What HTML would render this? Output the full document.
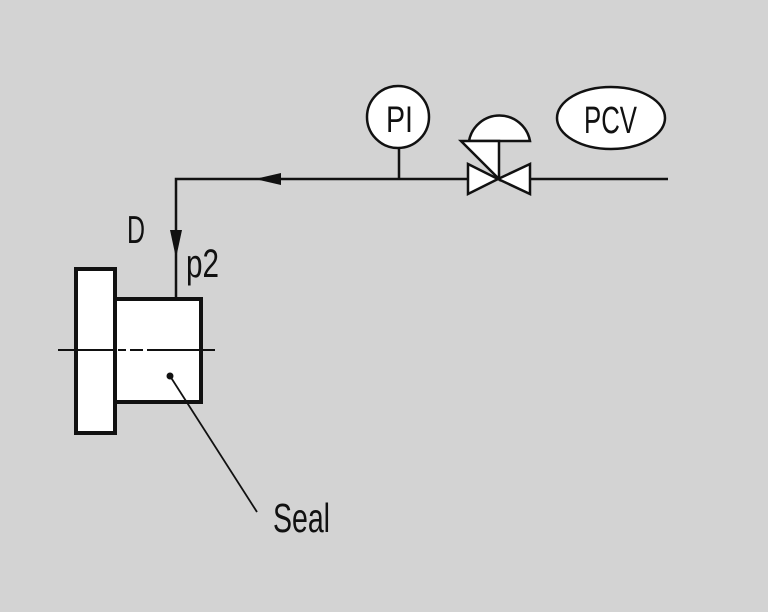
<!DOCTYPE html>
<html><head><meta charset="utf-8"><style>
html,body{margin:0;padding:0;background:#d3d3d3;}
svg{display:block;}
text{font-family:"Liberation Sans",sans-serif;fill:#111;}
</style></head><body>
<svg width="768" height="612" viewBox="0 0 768 612" xmlns="http://www.w3.org/2000/svg">
<rect width="768" height="612" fill="#d3d3d3"/>
<g stroke="#111" fill="none">
<polyline points="668,179 176,179 176,298" stroke-width="2.5"/>
<line x1="399" y1="148" x2="399" y2="179" stroke-width="2.5"/>
</g>
<polygon points="255,179 281,173 281,185" fill="#111"/>
<polygon points="176,258 170,230 182,230" fill="#111"/>
<rect x="76" y="269" width="39" height="164" fill="#fff" stroke="#111" stroke-width="4"/>
<rect x="115" y="299" width="86" height="103" fill="#fff" stroke="#111" stroke-width="4"/>
<g stroke="#111" stroke-width="2">
<line x1="58" y1="350" x2="115" y2="350"/>
<line x1="118" y1="350" x2="126" y2="350"/>
<line x1="130" y1="350" x2="143" y2="350"/>
<line x1="147" y1="350" x2="215" y2="350"/>
<line x1="170" y1="376" x2="257" y2="512" stroke-width="1.8"/>
</g>
<circle cx="170" cy="376" r="3.5" fill="#111"/>
<circle cx="398" cy="117" r="31" fill="#fff" stroke="#111" stroke-width="2.5"/>
<ellipse cx="611" cy="118" rx="54" ry="31" fill="#fff" stroke="#111" stroke-width="2.5"/>
<g stroke="#111" stroke-width="2.5" fill="#fff" stroke-linejoin="miter">
<polygon points="468,164 498,179 468,194"/>
<polygon points="530,164 498,179 530,194"/>
<path d="M469,141 A31,31 0 0 1 530,141 Z"/>
<polygon points="461,141 499,141 499,179"/>
</g>
<text x="127" y="243" font-size="39" textLength="18" lengthAdjust="spacingAndGlyphs">D</text>
<text x="186" y="277" font-size="40" textLength="33" lengthAdjust="spacingAndGlyphs">p2</text>
<text x="386" y="132" font-size="37" textLength="27" lengthAdjust="spacingAndGlyphs">PI</text>
<text x="584" y="133" font-size="38" textLength="53" lengthAdjust="spacingAndGlyphs">PCV</text>
<text x="273" y="532" font-size="41" textLength="57" lengthAdjust="spacingAndGlyphs">Seal</text>
</svg>
</body></html>
